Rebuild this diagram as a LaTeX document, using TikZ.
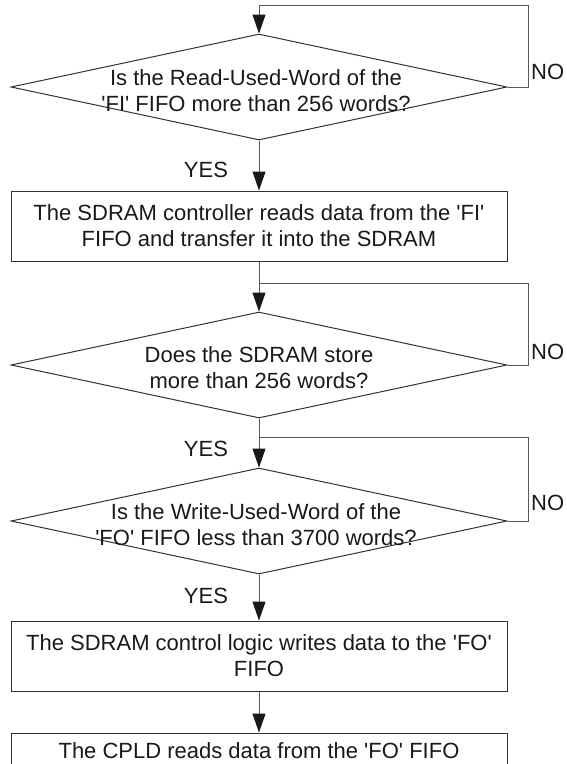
\documentclass[tikz,border=0pt]{standalone}
\usepackage{fontspec}
\setmainfont{Liberation Sans}
\usetikzlibrary{arrows.meta, shapes, positioning}
\newcommand{\sq}{\textquotesingle}

\begin{document}
\begin{tikzpicture}[x=1pt, y=-1pt]
 \tikzstyle{pnode}=[rectangle, draw=black!80, line width=1pt, minimum width=496pt, minimum height=70pt, inner sep=0pt, align=center, text=black!90, font=\fontsize{22}{26}\selectfont]
 \tikzstyle{dnode}=[diamond, draw=black!80, line width=1pt, minimum width=496pt, minimum height=106pt, inner sep=0pt]
 \tikzstyle{dtext}=[align=center, inner sep=0pt, text=black!90, font=\fontsize{22}{26}\selectfont]
 \tikzstyle{tag}=[inner sep=0pt, text=black!90, font=\fontsize{22}{26}\selectfont]
 \tikzstyle{line} = [draw=black!65, line width=1pt, -{Triangle[length=19pt, width=13pt, color=black!90]}]
 \tikzstyle{nobranch} = [draw=black!65, line width=1pt]

 \useasboundingbox (0,0) rectangle (566,764);
 \clip (0,0) rectangle (566,764);

 \node[dnode] (d1) at (259,87) {};
 \node[dtext] (q1) at (256,91) {Is the Read-Used-Word of the\\\sq FI\sq\ FIFO more than 256 words?};
 \node[pnode] (b1) at (259,226) {The SDRAM controller reads data from the \sq FI\sq\\FIFO and transfer it into the SDRAM};
 \node[dnode] (d2) at (259,365) {};
 \node[dtext] (q2) at (259,368) {Does the SDRAM store\\more than 256 words?};
 \node[dnode] (d3) at (259,521) {};
 \node[dtext] (q3) at (256,525) {Is the Write-Used-Word of the\\\sq FO\sq\ FIFO less than 3700 words?};
 \node[pnode] (b2) at (259,656) {The SDRAM control logic writes data to the \sq FO\sq\\FIFO};
 \node[pnode, minimum height=36pt] (b3) at (259,751) {The CPLD reads data from the \sq FO\sq\ FIFO};

 \node[tag] (y1) at (206,170) {YES};
 \node[tag] (y2) at (206,449) {YES};
 \node[tag] (y3) at (206,596) {YES};
 \node[tag, anchor=west] (n1) at (531,72) {NO};
 \node[tag, anchor=west] (n2) at (531,352) {NO};
 \node[tag, anchor=west] (n3) at (531,503) {NO};

 \coordinate (r1) at (528,5);
 \coordinate (r2) at (528,283);
 \coordinate (j2) at (259,283);
 \coordinate (r3) at (528,437);
 \coordinate (j3) at (259,437);

 \path [line] (d1.east) -| (r1) -| (d1.north);
 \path [line] (d1.south) -- (b1.north);
 \path [line] (b1.south) -- (d2.north);
 \path [nobranch] (d2.east) -| (r2) -- (j2);
 \path [line] (d2.south) -- (d3.north);
 \path [nobranch] (d3.east) -| (r3) -- (j3);
 \path [line] (d3.south) -- (b2.north);
 \path [line] (b2.south) -- (b3.north);
\end{tikzpicture}
\end{document}
